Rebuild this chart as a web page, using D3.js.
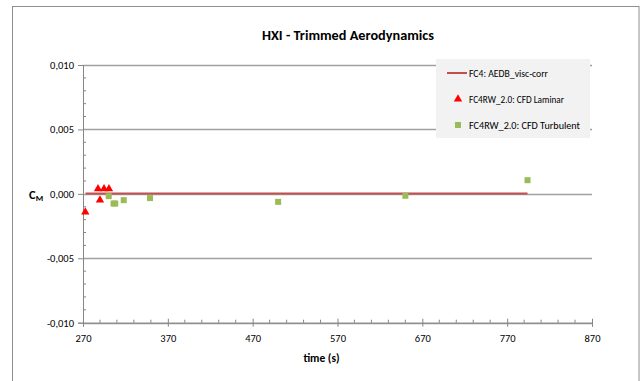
<!DOCTYPE html>
<html><head><meta charset="utf-8">
<script src="https://cdn.jsdelivr.net/npm/d3@7"></script>
<style>
html,body{margin:0;padding:0;background:#fff;}
svg{display:block;}
text{font-family:"Carlito","Calibri","Liberation Sans Narrow","Liberation Sans",sans-serif;fill:#000;}
</style></head>
<body>
<svg id="chart" width="641" height="381"></svg>
<script>
const title = "HXI - Trimmed Aerodynamics";
const xLabel = "time (s)";
const yLabelMain = "C";
const yLabelSub = "M";
const xTicks = [270, 370, 470, 570, 670, 770, 870];
const yTicks = [-0.010, -0.005, 0.000, 0.005, 0.010];
const seriesNames = ["FC4: AEDB_visc-corr", "FC4RW_2.0: CFD Laminar", "FC4RW_2.0: CFD Turbulent"];

const lineTimes = [273, 794];
const lineValues = [0.00002, 0.00002];

const laminarTimes = [272.7, 287.7, 290.0, 294.8, 300.6];
const laminarValues = [-0.00142, 0.00039, -0.00049, 0.00039, 0.00039];

const turbTimes = [300.3, 306.0, 308.0, 318.0, 349.0, 500.0, 650.0, 794.0];
const turbValues = [-0.00018, -0.00075, -0.00075, -0.00049, -0.00033, -0.00062, -0.00015, 0.00106];

const svg = d3.select("#chart");
const x = d3.scaleLinear().domain([270, 870]).range([83, 592]);
const y = d3.scaleLinear().domain([-0.010, 0.010]).range([322.7, 65]);
const fmt = v => d3.format(".3f")(v).replace(".", ",").replace("−", "-");
const ff = '"Carlito","Calibri","Liberation Sans Narrow","Liberation Sans",sans-serif';

// outer frame
svg.append("rect").attr("x", 12.5).attr("y", 6.5).attr("width", 626.5).attr("height", 400)
  .attr("fill", "none").attr("stroke", "#8e8e8e").attr("stroke-width", 1);

// title
svg.append("text").attr("x", 348).attr("y", 40).attr("text-anchor", "middle")
  .attr("font-size", 14.5).attr("font-weight", "bold")
  .attr("textLength", 172).attr("lengthAdjust", "spacingAndGlyphs").text(title);

// gridlines
svg.append("g").selectAll("line").data(yTicks).join("line")
  .attr("x1", x(270)).attr("x2", x(870))
  .attr("y1", d => Math.round(y(d)) + 0.5).attr("y2", d => Math.round(y(d)) + 0.5)
  .attr("stroke", "#a0a0a0").attr("stroke-width", 1.5);

// y axis
const yAxis = svg.append("g").attr("transform", `translate(${x(270)},0)`);
yAxis.call(d3.axisLeft(y).tickValues(yTicks).tickSize(5).tickFormat(fmt));
yAxis.select(".domain").attr("stroke", "#868686");
yAxis.selectAll(".tick line").attr("stroke", "#868686");
yAxis.selectAll(".tick text").attr("font-size", 10.5).attr("x", -9)
  .style("font-family", ff).attr("fill", "#000");
const yMinor = d3.range(-0.010, 0.0101, 0.001).filter(v => Math.abs(Math.round(v * 1000) % 5) !== 0);
svg.append("g").selectAll("line").data(yMinor).join("line")
  .attr("x1", x(270)).attr("x2", x(270) + 3)
  .attr("y1", d => y(d)).attr("y2", d => y(d))
  .attr("stroke", "#868686");

// x axis
const xAxis = svg.append("g").attr("transform", `translate(0,${y(-0.010)})`);
xAxis.call(d3.axisBottom(x).tickValues(xTicks).tickSize(4).tickFormat(d3.format("d")));
xAxis.select(".domain").attr("stroke", "#868686");
xAxis.selectAll(".tick line").attr("stroke", "#868686").attr("y1", -4);
xAxis.selectAll(".tick text").attr("font-size", 10.5).attr("y", 12)
  .style("font-family", ff).attr("fill", "#000");
const xMinor = d3.range(270, 871, 20).filter(v => (v - 270) % 100 !== 0);
svg.append("g").selectAll("line").data(xMinor).join("line")
  .attr("x1", d => x(d)).attr("x2", d => x(d))
  .attr("y1", y(-0.010)).attr("y2", y(-0.010) - 3)
  .attr("stroke", "#868686");

// axis titles
svg.append("text").attr("x", x(570) - 16).attr("y", 362).attr("text-anchor", "middle")
  .attr("font-size", 11.5).attr("font-weight", "bold").text(xLabel);
const yl = svg.append("text").attr("x", 29).attr("y", 199).attr("font-size", 12.5).attr("font-weight", "bold");
yl.append("tspan").text(yLabelMain);
yl.append("tspan").attr("font-size", 8.5).attr("dy", 2).text(yLabelSub);

// line series
const lineData = lineTimes.map((t, i) => [t, lineValues[i]]);
svg.append("path").datum(lineData)
  .attr("d", d3.line().x(d => x(d[0])).y(d => y(d[1])))
  .attr("fill", "none").attr("stroke", "#c0504d").attr("stroke-width", 2);

// turbulent squares
const sq = 6;
svg.append("g").selectAll("rect").data(turbTimes.map((t, i) => [t, turbValues[i]])).join("rect")
  .attr("x", d => x(d[0]) - sq / 2).attr("y", d => y(d[1]) - sq / 2)
  .attr("width", sq).attr("height", sq).attr("fill", "#9bbb59");

// laminar triangles
const tri = d3.symbol().type(d3.symbolTriangle).size(30);
svg.append("g").selectAll("path").data(laminarTimes.map((t, i) => [t, laminarValues[i]])).join("path")
  .attr("transform", d => `translate(${x(d[0])},${y(d[1])})`)
  .attr("d", tri).attr("fill", "#ff0000");

// legend
const lg = svg.append("g");
lg.append("rect").attr("x", 436).attr("y", 59).attr("width", 154).attr("height", 79).attr("fill", "#f2f2f2");
const ly = [73, 99, 125];
lg.append("line").attr("x1", 447).attr("x2", 467).attr("y1", ly[0]).attr("y2", ly[0])
  .attr("stroke", "#c0504d").attr("stroke-width", 2);
lg.append("path").attr("transform", `translate(458,${ly[1]})`).attr("d", tri).attr("fill", "#ff0000");
lg.append("rect").attr("x", 455).attr("y", ly[2] - 3).attr("width", sq).attr("height", sq).attr("fill", "#9bbb59");
const legW = [79, 95, 111];
lg.selectAll("text").data(seriesNames).join("text")
  .attr("x", 469).attr("y", (d, i) => ly[i] + 4).attr("font-size", 10.5)
  .attr("textLength", (d, i) => legW[i]).attr("lengthAdjust", "spacingAndGlyphs")
  .text(d => d);
</script>
</body></html>
